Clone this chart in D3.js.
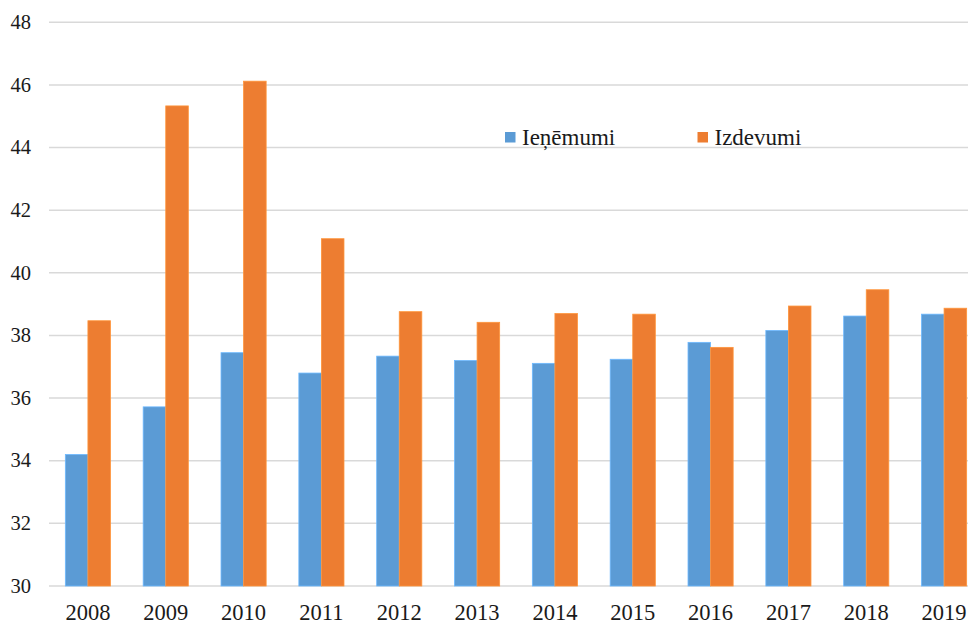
<!DOCTYPE html>
<html lang="lv">
<head>
    <meta charset="UTF-8">
    <title>Ieņēmumi un izdevumi</title>
    <script src="https://d3js.org/d3.v7.min.js"></script>
    <style>
        body {
            margin: 0;
            background-color: white;
        }
        .tick-label {
            font-family: "Liberation Serif", "Times New Roman", serif;
            fill: #1a1a1a;
        }
        .legend-text {
            font-family: "Liberation Serif", "Times New Roman", serif;
            font-size: 23px;
            fill: #1a1a1a;
        }
    </style>
</head>
<body>
<script>
    const years = ["2008", "2009", "2010", "2011", "2012", "2013", "2014", "2015", "2016", "2017", "2018", "2019"];
    const revenue = [34.2, 35.72, 37.45, 36.8, 37.34, 37.2, 37.11, 37.24, 37.78, 38.16, 38.62, 38.68];
    const spending = [38.47, 45.33, 46.12, 41.09, 38.76, 38.42, 38.7, 38.68, 37.62, 38.94, 39.46, 38.87];
    const seriesNames = ["Ieņēmumi", "Izdevumi"];
    const colors = ["#5B9BD5", "#ED7D31"];
    const yTicks = [30, 32, 34, 36, 38, 40, 42, 44, 46, 48];

    const width = 968, height = 624;
    const plotLeft = 49, plotRight = 983, plotTop = 22.3, plotBottom = 586;

    const svg = d3.select("body").append("svg")
        .attr("width", width)
        .attr("height", height);

    const x = d3.scaleBand()
        .domain(years)
        .range([plotLeft, plotRight])
        .paddingInner(0.42)
        .paddingOuter(0.21);

    const xInner = d3.scaleBand()
        .domain(seriesNames)
        .range([0, x.bandwidth()]);

    const y = d3.scaleLinear()
        .domain([30, 48])
        .range([plotBottom, plotTop]);

    // gridlines
    svg.append("g")
        .selectAll("line")
        .data(yTicks)
        .join("line")
        .attr("x1", plotLeft)
        .attr("x2", width)
        .attr("y1", d => y(d))
        .attr("y2", d => y(d))
        .attr("stroke", "#d9d9d9")
        .attr("stroke-width", 1.5);

    // y labels
    svg.append("g")
        .selectAll("text")
        .data(yTicks)
        .join("text")
        .attr("class", "tick-label")
        .attr("x", 31)
        .attr("y", d => y(d))
        .attr("dy", "0.33em")
        .attr("text-anchor", "end")
        .attr("font-size", 20.5)
        .text(d => d);

    // bars
    const series = [revenue, spending];
    const groups = svg.append("g")
        .selectAll("g")
        .data(years)
        .join("g")
        .attr("transform", d => `translate(${x(d)},0)`);

    groups.selectAll("rect")
        .data((d, i) => seriesNames.map((s, k) => ({ key: s, value: series[k][i], k })))
        .join("rect")
        .attr("x", d => xInner(d.key))
        .attr("width", xInner.bandwidth())
        .attr("y", d => y(d.value))
        .attr("height", d => y(30) - y(d.value))
        .attr("fill", d => colors[d.k])
        .attr("stroke", d => d3.color(colors[d.k]).brighter(0.5))
        .attr("stroke-width", 0.8);

    // x labels
    svg.append("g")
        .selectAll("text")
        .data(years)
        .join("text")
        .attr("class", "tick-label")
        .attr("x", d => x(d) + x.bandwidth() / 2)
        .attr("y", 620)
        .attr("text-anchor", "middle")
        .attr("font-size", 22.5)
        .text(d => d);

    // legend
    const legendX = [505, 697.5];
    const legend = svg.append("g")
        .selectAll("g")
        .data(seriesNames)
        .join("g")
        .attr("transform", (d, i) => `translate(${legendX[i]},132)`);

    legend.append("rect")
        .attr("width", 10.5)
        .attr("height", 10.5)
        .attr("fill", (d, i) => colors[i]);

    legend.append("text")
        .attr("class", "legend-text")
        .attr("x", 17)
        .attr("y", 13)
        .text(d => d);
</script>
</body>
</html>
